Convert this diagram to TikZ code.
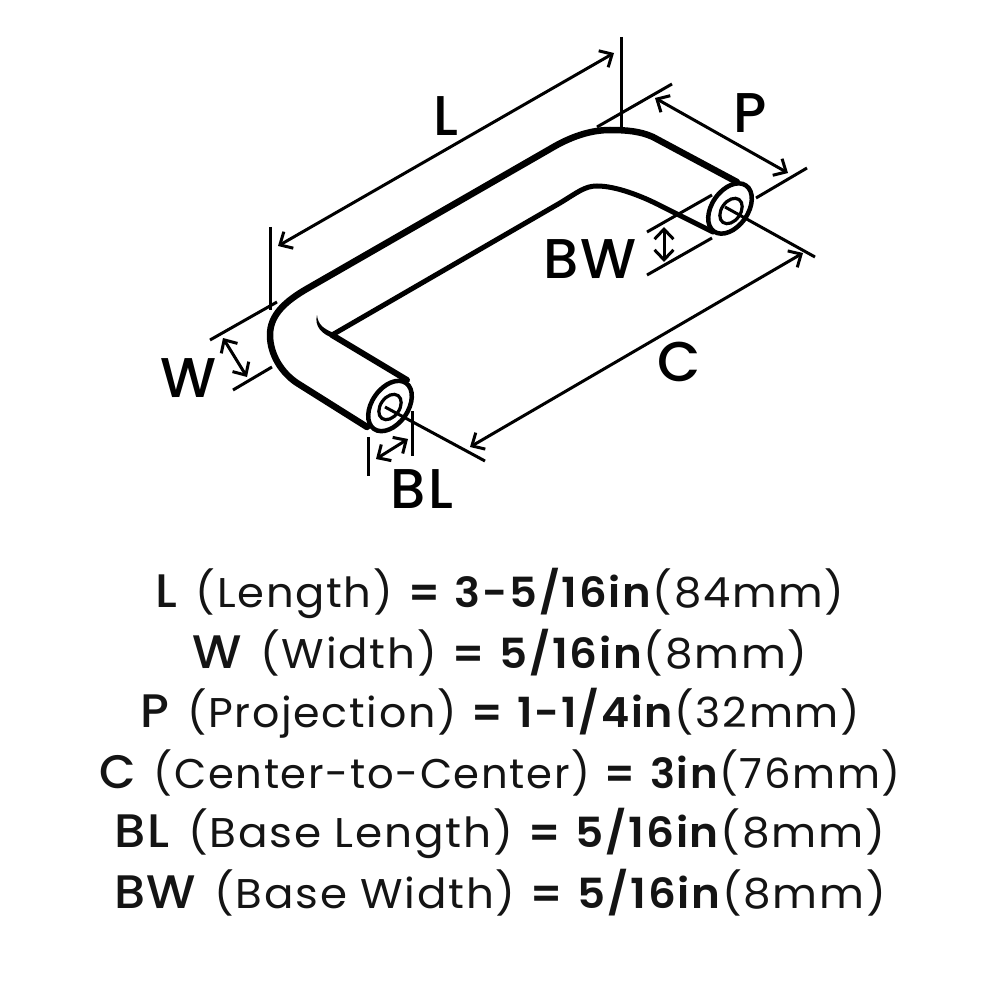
\documentclass[tikz,border=0pt]{standalone}
\usepackage{graphicx}
\usepackage{fontspec}
\setmainfont{Poppins}[LetterSpace=4.0,BoldFont={Poppins SemiBold}]
\newfontfamily\capsfont{Poppins Medium}[LetterSpace=3.0]
\newfontfamily\bigfont{Poppins Medium}[LetterSpace=4.0]
\usetikzlibrary{arrows.meta}
\tikzset{
  x=1pt,y=-1pt,
  body/.style={line width=6.5pt,line cap=round,line join=round,black},
  extline/.style={line width=3pt},
  dimline/.style={line width=3pt,{Straight Barb[length=10pt,width=19pt,line width=3pt]}-{Straight Barb[length=10pt,width=19pt,line width=3pt]}},
  big/.style={font=\fontsize{56}{56}\bigfont,inner sep=0pt,text=black},
  spec/.style={font=\fontsize{41.5}{41.5}\selectfont,inner sep=0pt,text=black!92},
}
\newcommand{\specline}[4]{\scalebox{#4}[1]{{\fontsize{47}{47}\capsfont #1}\hspace{5pt} (#2) \textbf{=} \textbf{#3}}}
\begin{document}
\begin{tikzpicture}
\useasboundingbox (0,0) rectangle (1000,1000);
\fill[white] (0,0) rectangle (1000,1000);
% handle outline
\draw[body] (737,182) -- (653,137) .. controls (640,131) and (625,130) .. (610,130) .. controls (590,130) and (570,137) .. (550,149) -- (310,287) .. controls (285,301) and (270,315) .. (270,335) .. controls (270,355) and (282,373) .. (297,383) -- (367,427);
\draw[line width=5pt,line cap=round] (713,232) -- (663,207) .. controls (640,195) and (615,186) .. (597,186) .. controls (585,186) and (578,192) .. (560,203) -- (332,335);
\draw[line width=6pt,line cap=round] (332,335) -- (407,380);
\fill (334,338) .. controls (322,335) and (314,326) .. (317,315) .. controls (318,325) and (324,329) .. (334,333) -- cycle;
% end caps
\draw[line width=4.5pt,fill=white] (390,406) ellipse[x radius=28,y radius=18,rotate=55];
\draw[line width=3.2pt] (390,407) ellipse[x radius=14,y radius=9.5,rotate=55];
\draw[line width=4.5pt,fill=white] (730,208.5) ellipse[x radius=28,y radius=18,rotate=55];
\draw[line width=3.2pt] (731,211) ellipse[x radius=14,y radius=9.5,rotate=55];
% coordinates
\coordinate (La) at (270,227); \coordinate (Lb) at (270,310);
\coordinate (Lc) at (621,37); \coordinate (Ld) at (621,127);
\coordinate (LA) at (278,246); \coordinate (LB) at (614,53);
\coordinate (Wa) at (210,340); \coordinate (Wb) at (277,302);
\coordinate (Wc) at (233,390); \coordinate (Wd) at (272,367);
\coordinate (WA) at (223,338); \coordinate (WB) at (247,377);
\coordinate (BLa) at (368,437); \coordinate (BLb) at (368,476);
\coordinate (BLc) at (412,411); \coordinate (BLd) at (412,456);
\coordinate (BLA) at (376,459); \coordinate (BLB) at (408,439);
\coordinate (Ca) at (385,407); \coordinate (Cb) at (485,461);
\coordinate (Cc) at (725,207); \coordinate (Cd) at (815,257);
\coordinate (CA) at (470,447); \coordinate (CB) at (803,253);
\coordinate (Pa) at (597,127); \coordinate (Pb) at (672,84);
\coordinate (Pc) at (756,198); \coordinate (Pd) at (807,168);
\coordinate (PA) at (655,98); \coordinate (PB) at (788,173);
\coordinate (BWa) at (647,232); \coordinate (BWb) at (712,195);
\coordinate (BWc) at (647,275); \coordinate (BWd) at (712,238);
\coordinate (BWA) at (664,227); \coordinate (BWB) at (664,262);
\foreach \s/\e in {La/Lb,Lc/Ld,Wa/Wb,Wc/Wd,BLa/BLb,BLc/BLd,Ca/Cb,Cc/Cd,Pa/Pb,Pc/Pd,BWa/BWb,BWc/BWd}
  \draw[extline] (\s) -- (\e);
\foreach \s/\e in {LA/LB,WA/WB,BLA/BLB,CA/CB,PA/PB,BWA/BWB}
  \draw[dimline] (\s) -- (\e);
% big labels
\node[big] (tL) at (446,116) {L};
\node[big] (tP) at (750,113) {P};
\node[big] (tW) at (188,378) {W};
\node[big] (tBW) at (590,259) {BW};
\node[big] (tC) at (679,362) {C};
\node[big] (tBL) at (422,489) {BL};
% spec lines
\node[spec] (s1) at (500,593) {\specline{L}{Length}{3-5/16in}{1.043}\scalebox{1.043}[1]{(84mm)}};
\node[spec] (s2) at (500,653) {\specline{W}{Width}{5/16in}{1.05}\scalebox{1.05}[1]{(8mm)}};
\node[spec] (s3) at (500,713) {\specline{P}{Projection}{1-1/4in}{1.03}\scalebox{1.03}[1]{(32mm)}};
\node[spec] (s4) at (500,773) {\specline{C}{Center-to-Center}{3in}{1.005}\scalebox{1.005}[1]{(76mm)}};
\node[spec] (s5) at (500,833) {\specline{BL}{Base Length}{5/16in}{1.055}\scalebox{1.055}[1]{(8mm)}};
\node[spec] (s6) at (500,893) {\specline{BW}{Base Width}{5/16in}{1.05}\scalebox{1.05}[1]{(8mm)}};
\end{tikzpicture}
\end{document}
